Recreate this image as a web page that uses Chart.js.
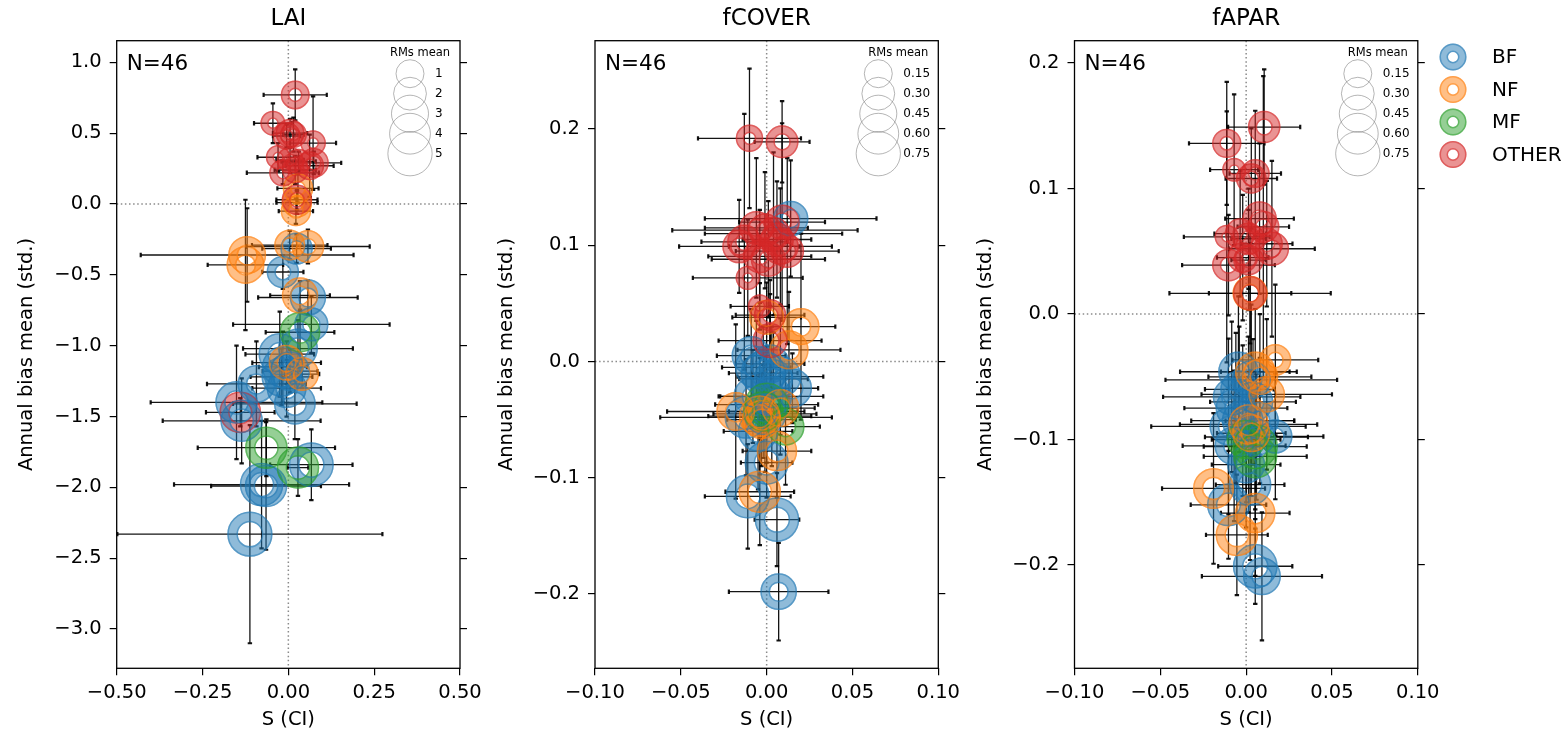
<!DOCTYPE html>
<html><head><meta charset="utf-8">
<script src="https://cdn.jsdelivr.net/npm/chart.js@4.4.1/dist/chart.umd.min.js"></script>
<style>
html,body{margin:0;padding:0;background:#fff;}
body{width:1568px;height:736px;position:relative;overflow:hidden;}
canvas{position:absolute;top:0;}
</style></head><body>
<canvas id="c1" width="490" height="736" style="left:0px"></canvas>
<canvas id="c2" width="480" height="736" style="left:490px"></canvas>
<canvas id="c3" width="598" height="736" style="left:970px"></canvas>
<script>
Chart.defaults.font.family = "'DejaVu Sans', sans-serif";
Chart.defaults.color = '#000';

const CAT_RGB = {BF:'31,119,180', NF:'255,127,14', MF:'44,160,44', OTHER:'214,39,40'};
const legendCats = ['BF','NF','MF','OTHER'];

// ---------------- LAI ----------------
const laiCat = ['OTHER',
 'BF','BF','BF','BF','BF','BF','BF','BF','BF','BF','BF','BF','BF','BF','BF','BF','BF','BF',
 'MF','MF','MF',
 'NF','NF','NF','NF','NF','NF','NF','NF','NF','NF',
 'OTHER','OTHER','OTHER','OTHER','OTHER','OTHER','OTHER','OTHER','OTHER','OTHER','OTHER','OTHER','OTHER','OTHER'];
const laiS = [-0.140,
 0.024,-0.016,0.057,0.067,-0.025,0.028,-0.016,-0.020,-0.093,-0.151,-0.136,0.019,-0.005,0.067,-0.078,-0.065,-0.112,0.005,
 0.034,-0.064,0.028,
 0.028,0.025,0.022,-0.120,-0.125,0.004,0.057,0.034,-0.005,0.040,
 0.020,-0.045,0.005,-0.005,0.015,0.072,-0.030,0.005,0.030,0.074,0.062,-0.016,0.020,0.025];
const laiBias = [-1.47,
 -0.315,-0.48,-0.66,-0.85,-1.06,-1.02,-1.15,-1.22,-1.27,-1.40,-1.53,-1.41,-1.30,-1.84,-1.98,-1.99,-2.33,-1.18,
 -0.905,-1.72,-1.86,
 0.11,0.01,-0.05,-0.36,-0.43,-0.29,-0.30,-0.645,-1.12,-1.20,
 0.77,0.57,0.50,0.48,0.49,0.43,0.33,0.31,0.30,0.29,0.27,0.22,0.24,0.03];
const laiSErr = [0.10,
 0.10,0.06,0.145,0.228,0.10,0.16,0.07,0.09,0.144,0.25,0.23,0.18,0.10,0.12,0.255,0.16,0.386,0.08,
 0.10,0.20,0.03,
 0.06,0.06,0.05,0.31,0.11,0.11,0.18,0.087,0.10,0.05,
 0.092,0.055,0.05,0.04,0.03,0.067,0.06,0.04,0.05,0.08,0.07,0.105,0.06,0.06];
const laiBiasErr = [0.10,
 0.10,0.12,0.12,0.20,0.30,0.20,0.25,0.20,0.30,0.40,0.30,0.25,0.20,0.25,0.45,0.45,0.77,0.15,
 0.15,0.20,0.20,
 0.10,0.08,0.09,0.33,0.46,0.10,0.12,0.10,0.15,0.10,
 0.18,0.14,0.10,0.08,0.12,0.33,0.10,0.09,0.07,0.08,0.22,0.08,0.10,0.07];
const laiRms = [4.0,
 1.7,1.7,2.6,2.1,4.2,3.5,4.0,3.5,3.0,4.2,4.2,4.0,3.5,4.9,4.5,4.2,5.0,3.5,
 3.7,4.2,4.2,
 1.3,1.3,1.3,3.0,3.0,1.4,1.8,2.6,2.5,2.0,
 1.0,0.3,1.0,0.8,0.6,0.4,0.2,0.6,0.4,1.2,1.0,0.7,0.6,1.3];
const laiXTicks = [-0.5,-0.25,0,0.25,0.5];
const laiYTicks = [1,0.5,0,-0.5,-1,-1.5,-2,-2.5,-3];
const laiRmsLegend = [1,2,3,4,5];
const laiRmsLegendLabels = ['1','2','3','4','5'];

// ---------------- fCOVER ----------------
const fcCat = ['BF','BF','BF','BF','BF','BF','BF','BF','BF','BF','BF','BF','BF','BF','BF','BF','BF',
 'MF','MF','MF',
 'NF','NF','NF','NF','NF','NF','NF','NF','NF',
 'OTHER','OTHER','OTHER','OTHER','OTHER','OTHER','OTHER','OTHER','OTHER','OTHER','OTHER','OTHER','OTHER','OTHER','OTHER','OTHER','OTHER'];
const fcS = [0.014,-0.009,-0.002,-0.006,0.008,0.015,-0.012,-0.001,0.000,-0.011,0.006,0.007,0.003,-0.005,0.002,0.004,-0.008,
 0.000,0.011,-0.002,
 0.020,0.000,0.013,-0.018,-0.004,0.006,-0.004,-0.003,0.008,
 -0.010,0.009,0.009,-0.001,-0.013,-0.016,0.008,0.012,0.001,-0.004,-0.011,-0.004,0.002,0.002,0.004,0.006,-0.006];
const fcBias = [0.123,0.005,-0.010,-0.005,-0.013,-0.023,-0.048,-0.045,-0.087,-0.116,-0.136,-0.198,-0.030,-0.060,-0.002,-0.015,-0.030,
 -0.037,-0.056,-0.043,
 0.030,0.038,0.010,-0.043,-0.047,-0.077,-0.112,-0.050,-0.040,
 0.192,0.189,0.120,0.113,0.103,0.099,0.099,0.095,0.088,0.0905,0.072,0.0475,0.040,0.018,0.110,0.105,0.115];
const fcSErr = [0.05,0.02,0.02,0.02,0.025,0.015,0.05,0.03,0.015,0.025,0.013,0.029,0.03,0.02,0.02,0.02,0.02,
 0.03,0.02,0.02,
 0.02,0.02,0.03,0.04,0.03,0.02,0.02,0.02,0.02,
 0.030,0.016,0.025,0.054,0.025,0.035,0.030,0.030,0.033,0.030,0.032,0.017,0.020,0.030,0.040,0.020,0.030];
const fcBiasErr = [0.05,0.04,0.04,0.04,0.05,0.03,0.05,0.05,0.03,0.045,0.04,0.042,0.06,0.05,0.05,0.04,0.04,
 0.05,0.05,0.04,
 0.08,0.03,0.05,0.075,0.05,0.04,0.046,0.04,0.04,
 0.060,0.035,0.085,0.050,0.110,0.040,0.050,0.080,0.050,0.040,0.050,0.020,0.030,0.040,0.070,0.050,0.060];
const fcRms = [0.36,0.50,0.75,0.65,0.60,0.50,0.65,0.65,0.70,0.70,0.72,0.40,0.55,0.55,0.50,0.50,0.50,
 0.70,0.45,0.55,
 0.42,0.35,0.50,0.48,0.60,0.55,0.63,0.50,0.45,
 0.11,0.27,0.35,0.30,0.32,0.30,0.40,0.30,0.35,0.30,0.03,0.02,0.25,0.35,0.30,0.30,0.30];
const fcXTicks = [-0.1,-0.05,0,0.05,0.1];
const fcYTicks = [0.2,0.1,0,-0.1,-0.2];
const fcRmsLegend = [0.15,0.30,0.45,0.60,0.75];
const fcRmsLegendLabels = ['0.15','0.30','0.45','0.60','0.75'];

// ---------------- fAPAR ----------------
const faCat = ['BF','BF','BF','BF','BF','BF','BF','BF','BF','BF','BF','BF','BF','BF','BF','BF','BF',
 'MF','MF','MF',
 'NF','NF','NF','NF','NF','NF','NF','NF','NF','NF',
 'OTHER','OTHER','OTHER','OTHER','OTHER','OTHER','OTHER','OTHER','OTHER','OTHER','OTHER','OTHER','OTHER','OTHER','OTHER','OTHER'];
const faS = [-0.0045,0.003,-0.0084,-0.0103,0.017,0.0023,-0.0103,0.0053,0.0092,-0.006,0.004,-0.002,0.008,-0.004,0.006,-0.007,0.000,
 0.0053,0.0053,0.000,
 0.0023,0.017,0.0053,0.012,0.0014,-0.019,0.0053,-0.0054,0.008,0.003,
 0.0105,-0.0113,-0.007,0.0053,0.003,0.0078,0.010,-0.0113,-0.0035,0.0014,0.015,0.012,-0.0103,0.0014,0.0023,-0.002];
const faBias = [-0.046,-0.0525,-0.066,-0.0896,-0.0976,-0.136,-0.152,-0.201,-0.209,-0.075,-0.070,-0.085,-0.085,-0.060,-0.098,-0.105,-0.120,
 -0.1056,-0.1135,-0.100,
 0.0165,-0.0366,-0.046,-0.064,-0.088,-0.139,-0.1586,-0.176,-0.050,-0.095,
 0.149,0.136,0.115,0.112,0.108,0.076,0.0695,0.0615,0.064,0.060,0.052,0.056,0.039,0.043,0.0165,0.045];
const faSErr = [0.034,0.050,0.040,0.045,0.028,0.020,0.022,0.0216,0.035,0.030,0.025,0.030,0.020,0.020,0.030,0.030,0.020,
 0.030,0.030,0.020,
 0.047,0.025,0.020,0.038,0.040,0.030,0.020,0.018,0.030,0.020,
 0.021,0.022,0.014,0.015,0.015,0.020,0.015,0.025,0.015,0.010,0.025,0.015,0.027,0.010,0.024,0.015];
const faBiasErr = [0.060,0.060,0.060,0.070,0.050,0.060,0.043,0.030,0.051,0.060,0.050,0.060,0.050,0.050,0.050,0.060,0.050,
 0.050,0.050,0.050,
 0.050,0.060,0.050,0.060,0.070,0.060,0.050,0.048,0.050,0.050,
 0.046,0.049,0.060,0.050,0.040,0.060,0.120,0.100,0.050,0.040,0.070,0.050,0.040,0.040,0.040,0.050];
const faRms = [0.55,0.50,0.45,0.45,0.32,0.63,0.65,0.73,0.45,0.55,0.55,0.60,0.45,0.45,0.45,0.50,0.45,
 0.75,0.70,0.50,
 0.35,0.24,0.55,0.40,0.55,0.57,0.55,0.63,0.40,0.45,
 0.26,0.16,0.02,0.15,0.20,0.33,0.25,0.03,0.20,0.25,0.32,0.25,0.27,0.20,0.32,0.20];
const faXTicks = [-0.1,-0.05,0,0.05,0.1];
const faYTicks = [0.2,0.1,0,-0.1,-0.2];
const faRmsLegend = [0.15,0.30,0.45,0.60,0.75];
const faRmsLegendLabels = ['0.15','0.30','0.45','0.60','0.75'];

// ---------------- helpers ----------------
function legendRadius(v){ return 8.57*Math.sqrt(1.667+Math.max(v,0)); }
function ringGeom(v){ const R = legendRadius(v)+0.5; const w = 5+0.25*R; return {r:R-w/2, w:w}; }
function fmt(v,d){ const a=Math.abs(v).toFixed(d); return (v < -1e-9 ? '\u2212' : '') + a; }

function ringEdges(ctx,x,y,r,w,rgb){
  ctx.strokeStyle = 'rgba('+rgb+',0.5)';
  ctx.lineWidth = 1.5;
  ctx.beginPath(); ctx.arc(x,y,r+w/2-0.75,0,Math.PI*2); ctx.stroke();
  ctx.beginPath(); ctx.arc(x,y,Math.max(r-w/2+0.75,0.5),0,Math.PI*2); ctx.stroke();
}

function makePanel(canvasId, p){
  const pts = p.s.map((x,i)=>{ const g = ringGeom(p.rms[i]/p.unit); return {x:x, y:p.b[i], r:g.r, w:g.w, c:p.cat[i]}; });
  const tickGrid = {display:true, drawOnChartArea:false, drawTicks:true, tickLength:7, color:'#000', lineWidth:1.2};
  const tickFont = {size:19.5};
  const plugin = {
    id:'decor',
    beforeDatasetsDraw(chart){
      const {ctx, chartArea:a, scales} = chart; const x = scales.x, y = scales.y;
      ctx.save();
      ctx.beginPath(); ctx.rect(a.left,a.top,a.right-a.left,a.bottom-a.top); ctx.clip();
      ctx.strokeStyle = '#8a8a8a'; ctx.lineWidth = 1.5; ctx.setLineDash([1.5,2.6]);
      const x0 = x.getPixelForValue(0), y0 = y.getPixelForValue(0);
      ctx.beginPath(); ctx.moveTo(a.left,y0); ctx.lineTo(a.right,y0); ctx.stroke();
      ctx.beginPath(); ctx.moveTo(x0,a.top); ctx.lineTo(x0,a.bottom); ctx.stroke();
      ctx.setLineDash([]);
      for (let i=0;i<p.s.length;i++){
        const px = x.getPixelForValue(p.s[i]), py = y.getPixelForValue(p.b[i]);
        const xl = x.getPixelForValue(p.s[i]-p.se[i]), xr = x.getPixelForValue(p.s[i]+p.se[i]);
        const yt = y.getPixelForValue(p.b[i]+p.be[i]), yb = y.getPixelForValue(p.b[i]-p.be[i]);
        ctx.strokeStyle = 'rgba(0,0,0,0.92)'; ctx.lineWidth = 1.3;
        ctx.beginPath(); ctx.moveTo(xl,py); ctx.lineTo(xr,py); ctx.moveTo(px,yt); ctx.lineTo(px,yb); ctx.stroke();
        ctx.lineWidth = 2.2;
        ctx.beginPath();
        ctx.moveTo(xl,py-2.2); ctx.lineTo(xl,py+2.2);
        ctx.moveTo(xr,py-2.2); ctx.lineTo(xr,py+2.2);
        ctx.moveTo(px-2.2,yt); ctx.lineTo(px+2.2,yt);
        ctx.moveTo(px-2.2,yb); ctx.lineTo(px+2.2,yb);
        ctx.stroke();
      }
      ctx.restore();
    },
    afterDatasetsDraw(chart){
      const {ctx, chartArea:a} = chart;
      const meta = chart.getDatasetMeta(0);
      ctx.save();
      ctx.beginPath(); ctx.rect(a.left,a.top,a.right-a.left,a.bottom-a.top); ctx.clip();
      meta.data.forEach((el,i)=>{ const d = pts[i]; ringEdges(ctx, el.x, el.y, d.r, d.w, CAT_RGB[d.c]); });
      ctx.restore();
    },
    afterDraw(chart){
      const {ctx, chartArea:a} = chart;
      ctx.save();
      ctx.strokeStyle = '#000'; ctx.lineWidth = 1.3;
      ctx.strokeRect(a.left, a.top, a.right-a.left, a.bottom-a.top);
      ctx.fillStyle = '#000';
      ctx.font = "21.5px 'DejaVu Sans'"; ctx.textAlign = 'left'; ctx.textBaseline = 'middle';
      ctx.fillText('N=46', a.left+10, a.top+23.5);
      // size legend
      const cx = a.right - p.sizeDx;
      ctx.font = "11.5px 'DejaVu Sans'"; ctx.textAlign = 'center';
      ctx.fillText('RMs mean', a.right-40, a.top+12);
      ctx.font = "12px 'DejaVu Sans'"; ctx.textAlign = 'left';
      p.legVals.forEach((v,i)=>{
        const cy = a.top + 33 + 20*i;
        ctx.strokeStyle = 'rgba(120,120,120,0.55)'; ctx.lineWidth = 1;
        ctx.beginPath(); ctx.arc(cx, cy, legendRadius(v/p.unit), 0, Math.PI*2); ctx.stroke();
        ctx.fillText(p.legLabels[i], cx+25, cy);
      });
      if (p.catLegend){
        const lx = p.catLegend.x, tx = p.catLegend.tx;
        ctx.font = "20px 'DejaVu Sans'";
        legendCats.forEach((c,i)=>{
          const ly = p.catLegend.y0 + 32.5*i;
          ctx.strokeStyle = 'rgba('+CAT_RGB[c]+',0.5)'; ctx.lineWidth = 8.5;
          ctx.beginPath(); ctx.arc(lx, ly, 9.25, 0, Math.PI*2); ctx.stroke();
          ringEdges(ctx, lx, ly, 9.25, 8.5, CAT_RGB[c]);
          ctx.fillStyle = '#000';
          ctx.fillText(c, tx, ly+1);
        });
      }
      ctx.restore();
    }
  };
  const setTicks = arr => (sc => { sc.ticks = arr.map(v=>({value:v})); });
  return new Chart(document.getElementById(canvasId), {
    type:'bubble',
    data:{ datasets:[{
      data: pts,
      borderColor: ctx => ctx.raw ? 'rgba('+CAT_RGB[ctx.raw.c]+',0.5)' : 'rgba(0,0,0,0)',
      backgroundColor: 'rgba(0,0,0,0)',
      borderWidth: ctx => ctx.raw ? ctx.raw.w : 1,
      hoverRadius: 0, hoverBorderWidth: 0,
      clip: false
    }]},
    plugins:[plugin],
    options:{
      responsive:false, animation:false, events:[],
      layout:{padding:0},
      plugins:{
        legend:{display:false}, tooltip:{enabled:false},
        title:{display:true, text:p.title, fullSize:false, font:{size:23, weight:'normal'}, padding:{top:5,bottom:8.1}, color:'#000'}
      },
      scales:{
        x:{type:'linear', position:'bottom', min:p.xMin, max:p.xMax, bounds:'data',
           afterBuildTicks: setTicks(p.xTicks),
           ticks:{callback:v=>fmt(v,2), font:tickFont, padding:6, color:'#000', maxRotation:0, autoSkip:false},
           grid:tickGrid, border:{display:false},
           title:{display:true, text:'S (CI)', font:{size:19.5}, padding:{top:0,bottom:4}, color:'#000'},
           afterFit: sc => { sc.height = 67.7; }},
        y:{type:'linear', position:'left', min:p.yMin, max:p.yMax, bounds:'data',
           afterBuildTicks: setTicks(p.yTicks),
           ticks:{callback:v=>fmt(v,1), font:tickFont, padding:8, color:'#000', autoSkip:false},
           grid:tickGrid, border:{display:false},
           title:{display:true, text:'Annual bias mean (std.)', font:{size:19.5}, padding:{top:p.ylabPad,bottom:0}, color:'#000'},
           afterFit: sc => { sc.width = p.leftW; }},
        y2:{type:'linear', position:'right', min:p.yMin, max:p.yMax, bounds:'data',
           afterBuildTicks: setTicks(p.yTicks),
           ticks:{display:false},
           grid:tickGrid, border:{display:false},
           afterFit: sc => { sc.width = p.rightW; }}
      }
    }
  });
}

makePanel('c1', {title:'LAI', cat:laiCat, s:laiS, b:laiBias, se:laiSErr, be:laiBiasErr, rms:laiRms, unit:1,
  xMin:-0.5, xMax:0.5, yMin:-3.2767, yMax:1.1524, xTicks:laiXTicks, yTicks:laiYTicks,
  legVals:laiRmsLegend, legLabels:laiRmsLegendLabels, sizeDx:50, leftW:116.7, rightW:30, ylabPad:15.3});
makePanel('c2', {title:'fCOVER', cat:fcCat, s:fcS, b:fcBias, se:fcSErr, be:fcBiasErr, rms:fcRms, unit:0.15,
  xMin:-0.1, xMax:0.1, yMin:-0.2639, yMax:0.2760, xTicks:fcXTicks, yTicks:fcYTicks,
  legVals:fcRmsLegend, legLabels:fcRmsLegendLabels, sizeDx:60, leftW:105, rightW:31.7, ylabPad:5.3});
makePanel('c3', {title:'fAPAR', cat:faCat, s:faS, b:faBias, se:faSErr, be:faBiasErr, rms:faRms, unit:0.15,
  xMin:-0.1, xMax:0.1, yMin:-0.2823, yMax:0.2178, xTicks:faXTicks, yTicks:faYTicks,
  legVals:faRmsLegend, legLabels:faRmsLegendLabels, sizeDx:60, leftW:104.5, rightW:150.2, ylabPad:4.3,
  catLegend:{x:483, tx:522, y0:57}});
</script></body></html>
